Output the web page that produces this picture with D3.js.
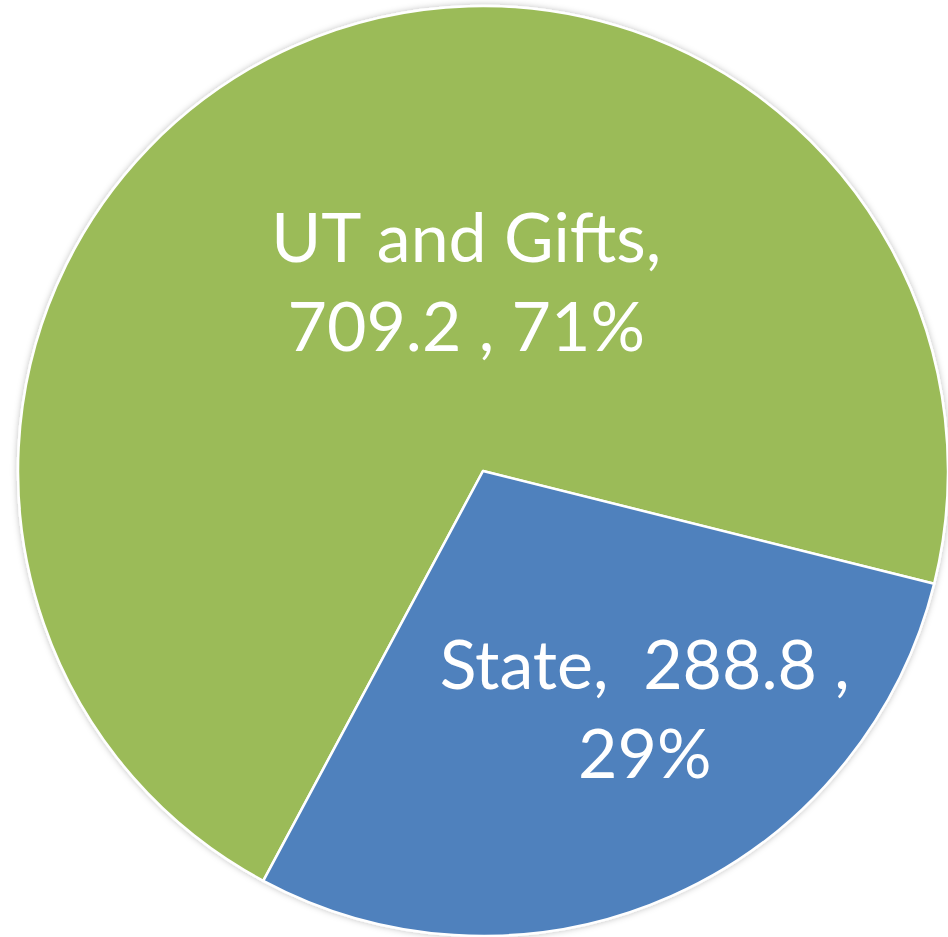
<!DOCTYPE html>
<html>
<head>
<meta charset="utf-8">
<script src="https://cdn.jsdelivr.net/npm/d3@7"></script>
<style>
  html, body { margin: 0; padding: 0; background: #ffffff; }
  svg { display: block; }
  text { white-space: pre; }
</style>
</head>
<body>
<svg id="chart" width="948" height="937"></svg>
<script>
const categories = ["UT and Gifts", "State"];
const values = [709.2, 288.8];
const percents = ["71%", "29%"];
const colors = ["#9BBB59", "#4F81BD"];
const labelLines = [
  ["UT and Gifts,", "709.2 , 71%"],
  ["State,  288.8 ,", "29%"]
];

const W = 948, H = 937;
const cx = 483, cy = 471, R = 465;
const startDeg = 208.2;

const svg = d3.select("#chart");
const defs = svg.append("defs");
const f = defs.append("filter").attr("id", "shadow")
  .attr("x", "-10%").attr("y", "-10%").attr("width", "120%").attr("height", "120%");
f.append("feDropShadow").attr("dx", 0).attr("dy", 0).attr("stdDeviation", 3)
  .attr("flood-color", "#000").attr("flood-opacity", 0.25);

const data = categories.map((c, i) => ({ name: c, value: values[i], color: colors[i], lines: labelLines[i] }));

const pie = d3.pie().sort(null).value(d => d.value)
  .startAngle(startDeg * Math.PI / 180)
  .endAngle(startDeg * Math.PI / 180 + 2 * Math.PI);
const arcs = pie(data);
const arc = d3.arc().innerRadius(0).outerRadius(R);

const g = svg.append("g").attr("transform", `translate(${cx},${cy})`);
g.append("g").attr("filter", "url(#shadow)")
  .selectAll("path").data(arcs).join("path")
  .attr("d", arc)
  .attr("fill", d => d.data.color)
  .attr("stroke", "#ffffff")
  .attr("stroke-width", 2.5)
  .attr("stroke-linejoin", "round");

const labelArc = d3.arc().innerRadius(R * 0.62).outerRadius(R * 0.62);
const fontSize = 68;
const lineH = 89.5;
const offsets = [[100, 82], [45, -18]];
arcs.forEach((a, i) => {
  const [lx0, ly0] = labelArc.centroid(a);
  const lx = lx0 + offsets[i][0], ly = ly0 + offsets[i][1];
  const t = g.append("text")
    .attr("text-anchor", "middle")
    .attr("fill", "#ffffff")
    .attr("font-family", "Lato, 'Open Sans', sans-serif")
    .attr("font-size", fontSize);
  a.data.lines.forEach((ln, k) => {
    t.append("tspan").attr("x", lx).attr("y", ly + (k - 0.5) * lineH + 17).text(ln);
  });
});
</script>
</body>
</html>
